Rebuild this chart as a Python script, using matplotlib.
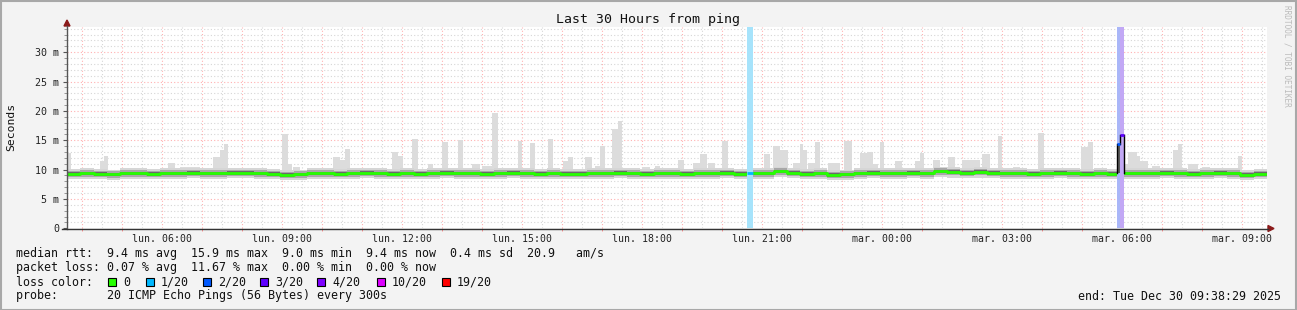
import numpy as np
import matplotlib
matplotlib.use("Agg")
import matplotlib.pyplot as plt
from matplotlib.patches import Rectangle, Polygon
from matplotlib.lines import Line2D

# median rtt in ms, 20 minute bins over the 30 hours (start Mon 03:38:29)
median_ms = [
    9.3, 9.4, 9.3, 9.2, 9.4, 9.4, 9.3, 9.4, 9.4,
    9.5, 9.4, 9.4, 9.5, 9.5, 9.4, 9.3, 9.1, 9.2,
    9.4, 9.4, 9.3, 9.4, 9.5, 9.4, 9.3, 9.4, 9.3,
    9.4, 9.5, 9.4, 9.4, 9.3, 9.4, 9.5, 9.4, 9.3,
    9.4, 9.3, 9.3, 9.4, 9.4, 9.5, 9.4, 9.3, 9.4,
    9.4, 9.3, 9.4, 9.4, 9.5, 9.3, 9.4, 9.4, 9.7,
    9.5, 9.3, 9.4, 9.1, 9.2, 9.4, 9.5, 9.4, 9.4,
    9.5, 9.4, 9.7, 9.6, 9.5, 9.6, 9.5, 9.4, 9.4,
    9.3, 9.4, 9.5, 9.4, 9.3, 9.4, 9.3, 9.4, 9.4,
    9.4, 9.5, 9.4, 9.3, 9.4, 9.5, 9.4, 9.1, 9.3]

# smoke peaks (hours from start, top in ms)
spike_start = [0.0, 0.83, 0.93, 2.53, 2.83, 3.65, 3.83, 3.93, 5.38, 5.53, 5.65,
               6.65, 6.83, 6.95, 8.13, 8.28, 8.63, 9.03, 9.38, 9.78, 10.13, 10.38,
               10.63, 11.28, 11.58, 12.03, 12.4, 12.53, 12.95, 13.2, 13.33, 13.63,
               13.78, 14.38, 14.7, 15.28, 15.65, 15.83, 16.03, 16.38, 17.43, 17.65,
               17.83, 18.15, 18.33, 18.4, 18.53, 18.7, 19.03, 19.43, 19.83, 20.0,
               20.15, 20.33, 20.7, 21.2, 21.33, 21.65, 22.03, 22.38, 22.88, 23.28,
               23.65, 24.28, 25.35, 25.53, 26.43, 26.53, 26.75, 26.83, 27.13, 27.65,
               27.78, 28.03, 28.38, 29.28]
spike_end = [0.1, 0.93, 1.03, 2.7, 3.33, 3.83, 3.93, 4.03, 5.53, 5.63, 5.83,
             6.83, 6.95, 7.08, 8.28, 8.4, 8.78, 9.15, 9.53, 9.9, 10.33, 10.63,
             10.78, 11.38, 11.7, 12.15, 12.53, 12.65, 13.13, 13.33, 13.45, 13.78,
             13.88, 14.58, 14.83, 15.43, 15.83, 16.0, 16.2, 16.53, 17.58, 17.83,
             18.03, 18.33, 18.4, 18.5, 18.7, 18.83, 19.33, 19.63, 20.0, 20.15,
             20.28, 20.43, 20.88, 21.33, 21.43, 21.83, 22.2, 22.83, 23.08, 23.38,
             23.83, 24.43, 25.53, 25.65, 26.53, 26.75, 26.83, 27.03, 27.33, 27.78,
             27.88, 28.28, 28.58, 29.38]
spike_top = [12.8, 11.5, 12.3, 11.1, 10.5, 12.1, 13.3, 14.3, 16.0, 11.0, 10.5,
             12.1, 11.6, 13.5, 13.0, 12.4, 15.2, 11.0, 14.7, 15.0, 11.0, 10.7,
             19.6, 14.8, 14.5, 15.3, 11.4, 12.1, 12.1, 10.7, 14.0, 17.0,
             18.2, 10.5, 10.7, 11.7, 11.2, 12.6, 11.2, 14.8, 12.6, 14.1,
             13.3, 11.2, 14.3, 13.3, 11.2, 14.7, 11.2, 14.8, 12.8, 13.0,
             11.0, 14.7, 11.4, 11.4, 12.8, 11.7, 12.1, 11.6, 12.6, 15.7,
             10.5, 16.3, 13.8, 14.7, 11.0, 13.0, 12.3, 11.4, 10.7, 13.3,
             14.3, 10.9, 10.5, 12.4]

# packet loss steps
loss_start = [17.0, 26.25, 26.33]
loss_end = [17.15, 26.33, 26.43]
loss_median = [9.4, 14.3, 15.9]
loss_color = ['#00b8ff', '#0059ff', '#5e00ff']
loss_band = ['#a6e3fb', '#a9b6f8', '#c2a8f5']

tick_labels = ['lun. 06:00', 'lun. 09:00', 'lun. 12:00', 'lun. 15:00', 'lun. 18:00',
               'lun. 21:00', 'mar. 00:00', 'mar. 03:00', 'mar. 06:00', 'mar. 09:00']
legend_labels = ['0', '1/20', '2/20', '3/20', '4/20', '10/20', '19/20']
legend_colors = ['#26ff00', '#00b8ff', '#0059ff', '#5e00ff', '#7e00ff', '#dd00ff', '#ff0000']

W, H = 1297, 310
MONO = 'DejaVu Sans Mono'
plt.rcParams['font.family'] = MONO

fig = plt.figure(figsize=(W / 100, H / 100), dpi=100)
fig.patch.set_facecolor('#f3f3f3')


def fx(x):
    return x / W


def fy(y):
    return 1 - y / H


ax = fig.add_axes([fx(67), fy(228.3), 1200 / W, 201.3 / H])
ax.set_facecolor('white')
ax.set_xlim(0, 30)
ax.set_ylim(0, 34.3)
for s in ax.spines.values():
    s.set_visible(False)

# grid
first_hour = 22 / 60 + 31 / 3600  # 04:00
hour_marks = first_hour + np.arange(30)
half_marks = hour_marks[hour_marks + 0.5 < 30] + 0.5
dot = (0, (1, 2))
for h in half_marks:
    ax.axvline(h, color='#d6d6d6', lw=0.8, ls=dot, zorder=0)
for h in hour_marks:
    ax.axvline(h, color='#ffb0b0', lw=0.8, ls=dot, zorder=0)
for v in range(1, 35):
    if v % 5:
        ax.axhline(v, color='#d6d6d6', lw=0.8, ls=dot, zorder=0)
for v in range(5, 35, 5):
    ax.axhline(v, color='#ffb0b0', lw=0.8, ls=dot, zorder=0)

# smoke
med = np.array(median_ms)
edges = np.arange(len(med) + 1) / 3
m = np.append(med, med[-1])
ax.bar(spike_start, np.array(spike_top) - 8.8, width=np.array(spike_end) - np.array(spike_start),
       bottom=8.8, align='edge', color='#dcdcdc', zorder=1)
ax.fill_between(edges, m - 0.95, m + 0.8, step='post', color='#d6d6d6', lw=0, zorder=2)
ax.fill_between(edges, m - 0.6, m + 0.5, step='post', color='#a8a8a8', lw=0, zorder=2)
ax.fill_between(edges, m - 0.35, m + 0.27, step='post', color='#6a6a6a', lw=0, zorder=2)

# median line
ax.step(edges, m, where='post', color='#26ff00', lw=2.0, zorder=3)

# loss bands and loss-coloured median
for s, e, c in zip(loss_start, loss_end, loss_band):
    ax.axvspan(s, e, color=c, lw=0, zorder=4)
ax.bar(loss_start[1], loss_median[1] - 9.4, width=loss_end[1] - loss_start[1], bottom=9.4,
       align='edge', color='#5a5a5a', zorder=4)
ax.plot([loss_start[1], loss_start[1]], [9.4, loss_median[1]], color='black', lw=1, zorder=5)
ax.plot([loss_end[1], loss_end[1]], [loss_median[1], loss_median[2]], color='black', lw=1, zorder=5)
ax.plot([loss_end[2], loss_end[2]], [loss_median[2], 9.4], color='black', lw=1, zorder=5)
for s, e, v, c in zip(loss_start, loss_end, loss_median, loss_color):
    ax.plot([s, e], [v, v], color=c, lw=2.0, solid_capstyle='butt', zorder=6)

# ticks
ax.set_xticks(first_hour + 2 + 3 * np.arange(10), tick_labels)
ax.set_xticks(hour_marks, minor=True)
ax.tick_params(axis='x', which='major', length=0, pad=4, labelsize=7.1, colors='#222222')
ax.tick_params(axis='x', which='minor', length=2.5, color='#ff8080')
ax.set_yticks(range(0, 31, 5), ['0', '5 m', '10 m', '15 m', '20 m', '25 m', '30 m'])
ax.set_yticks(range(0, 35), minor=True)
ax.tick_params(axis='y', which='major', length=3, pad=2.5, labelsize=7.2, color='#555555',
               labelcolor='#222222')
ax.tick_params(axis='y', which='minor', length=2, color='#888888')

# axis lines with arrows
fig.add_artist(Line2D([fx(67), fx(67)], [fy(228.5), fy(26)], color='#555555', lw=1))
fig.add_artist(Line2D([fx(62), fx(1268)], [fy(228.5), fy(228.5)], color='#333333', lw=1))
fig.add_artist(Polygon([[fx(64), fy(26)], [fx(70), fy(26)], [fx(67), fy(20)]],
                       closed=True, color='#8b1a1a'))
fig.add_artist(Polygon([[fx(1268), fy(225.5)], [fx(1268), fy(231.5)], [fx(1274), fy(228.5)]],
                       closed=True, color='#8b1a1a'))

# titles
fig.text(fx(648), fy(19), 'Last 30 Hours from ping', ha='center', va='center', fontsize=9.5,
         color='#111111')
fig.text(fx(11), fy(127), 'Seconds', rotation=90, ha='center', va='center', fontsize=8.2,
         color='#111111')
fig.text(fx(1287), fy(5), 'RRDTOOL / TOBI OETIKER', rotation=270, ha='center', va='top',
         fontsize=5.6, color='#bbbbbb')

# legend block
fs = 8.4
fig.text(fx(16), fy(254), 'median rtt:  9.4 ms avg  15.9 ms max  9.0 ms min  9.4 ms now'
         '  0.4 ms sd  20.9   am/s', va='center', fontsize=fs, color='#111111')
fig.text(fx(16), fy(268), 'packet loss: 0.07 % avg  11.67 % max  0.00 % min  0.00 % now',
         va='center', fontsize=fs, color='#111111')
fig.text(fx(16), fy(282), 'loss color:', va='center', fontsize=fs, color='#111111')
fig.text(fx(16), fy(296), 'probe:       20 ICMP Echo Pings (56 Bytes) every 300s',
         va='center', fontsize=fs, color='#111111')
fig.text(fx(1281), fy(296), 'end: Tue Dec 30 09:38:29 2025', ha='right', va='center',
         fontsize=fs, color='#111111')
box_x = [108, 146, 203, 260, 317, 377, 442]
for bx, lab, col in zip(box_x, legend_labels, legend_colors):
    fig.add_artist(Rectangle((fx(bx), fy(286)), 8 / W, 8 / H, facecolor=col,
                             edgecolor='black', lw=0.8))
    fig.text(fx(bx + 15), fy(282), lab, va='center', fontsize=fs, color='#111111')

# outer frame
fig.add_artist(Rectangle((0.5 / W, 0.5 / H), (W - 1.5) / W, (H - 1.5) / H, fill=False,
                         edgecolor='#a8a8a8', lw=1.5))

fig.savefig('out.png', dpi=100, facecolor=fig.get_facecolor())
